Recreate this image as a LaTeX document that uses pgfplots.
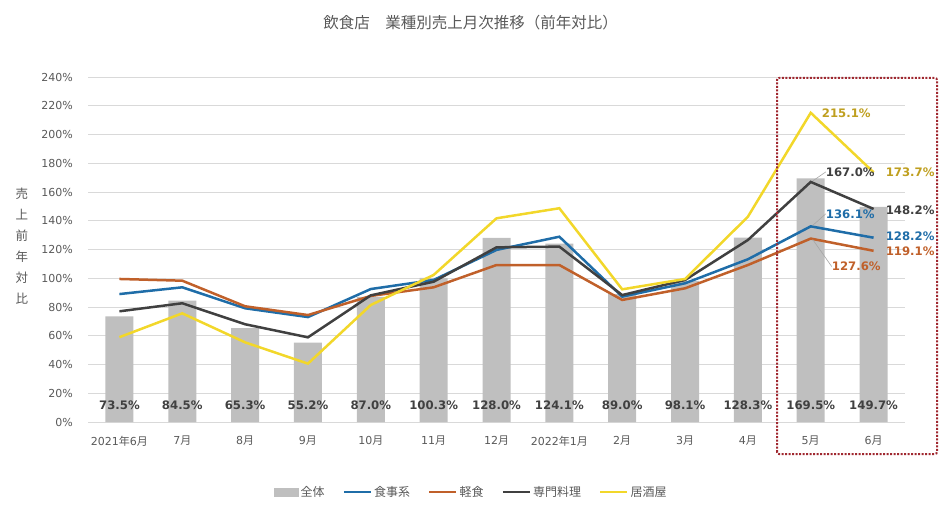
\documentclass[border=0pt]{standalone}
\usepackage{fontspec}
\setmainfont{DejaVu Sans}
\newfontfamily\cjk{Noto Sans CJK JP}
\usepackage{pgfplots}
\usepackage{pgfplotstable}
\pgfplotsset{compat=1.18}
\pgfkeys{/pgf/number format/assume math mode=true}

\definecolor{cbar}{HTML}{BFBFBF}
\definecolor{cmeal}{HTML}{1F6DA8}
\definecolor{clight}{HTML}{C0602A}
\definecolor{cspecial}{HTML}{404040}
\definecolor{cizakaya}{HTML}{F2D72A}
\definecolor{cizalbl}{HTML}{BF9F1F}
\definecolor{clabel}{HTML}{404040}
\definecolor{ctick}{HTML}{595959}
\definecolor{cgrid}{HTML}{D9D9D9}
\definecolor{cred}{HTML}{A02830}
\definecolor{clead}{HTML}{A6A6A6}

\pgfplotstableread{
x all meal light special izakaya
0 73.5 89.0 99.5 77.0 59.0
1 84.5 93.7 98.3 82.6 75.6
2 65.3 79.1 80.5 68.0 55.4
3 55.2 73.0 74.4 58.9 40.6
4 87.0 92.5 87.7 88.1 81.4
5 100.3 98.8 93.7 97.6 102.3
6 128.0 119.7 109.2 121.5 141.7
7 124.1 128.9 109.2 122.0 148.7
8 89.0 87.2 84.9 88.3 92.3
9 98.1 96.5 93.0 98.8 99.5
10 128.3 113.2 109.2 126.6 142.8
11 169.5 136.1 127.6 167.0 215.1
12 149.7 128.2 119.1 148.2 173.7
}\data

\newcommand{\pct}{\pgfmathprintnumber[fixed,fixed zerofill,precision=1]{\pgfplotspointmeta}\%}
\pgfplotsset{
  linelabel/.style n args={4}{draw=none, forget plot, mark=none,
    restrict x to domain=#1:#1,
    nodes near coords=\pct,
    every node near coord/.append style={font=\bfseries\fontsize{11.7}{14}\selectfont,
      text=#2, anchor=west, xshift=#3, yshift=#4, inner sep=0pt}},
}

\begin{document}
\begin{tikzpicture}
\useasboundingbox (0,0) rectangle (941pt,514pt);
\node[text=ctick, font=\cjk\fontsize{15.5}{18}\selectfont] at (470.5pt,491pt) {飲食店　業種別売上月次推移（前年対比）};
\begin{axis}[
  at={(88pt,92pt)}, anchor=south west,
  scale only axis, width=817pt, height=345pt,
  xmin=-0.5, xmax=12.5, ymin=0, ymax=240,
  clip=false,
  ytick distance=20,
  yticklabel={\pgfmathprintnumber{\tick}\%},
  xtick={0,...,12},
  xticklabels={2021{\cjk 年}6{\cjk 月},7{\cjk 月},8{\cjk 月},9{\cjk 月},10{\cjk 月},11{\cjk 月},12{\cjk 月},2022{\cjk 年}1{\cjk 月},2{\cjk 月},3{\cjk 月},4{\cjk 月},5{\cjk 月},6{\cjk 月}},
  ticklabel style={font=\fontsize{11}{13}\selectfont, text=ctick},
  yticklabel style={anchor=east, inner sep=0pt, xshift=-15pt},
  xticklabel style={anchor=center, inner sep=0pt, yshift=-19pt},
  axis line style={draw=none},
  major tick style={draw=none},
  ymajorgrids, grid style={cgrid, line width=0.8pt},
  ylabel={売\\上\\前\\年\\対\\比},
  ylabel style={rotate=-90, at={(rel axis cs:-0.0808,0.51)}, anchor=center, align=center,
    font=\cjk\fontsize{12.5}{21}\selectfont, text=ctick},
  legend style={at={(0.4688,-0.2029)}, anchor=center, draw=none, fill=none,
    legend columns=5, font=\cjk\fontsize{12}{14}\selectfont, text=ctick,
    /tikz/every even column/.append style={column sep=16pt}},
  legend image code/.code={\draw[#1, line width=2.5pt] (0pt,0pt) -- (27pt,0pt);},
]
\addplot[ybar, bar width=28pt, fill=cbar, draw=none,
  legend image code/.code={\fill[cbar] (0pt,-4.5pt) rectangle (25pt,4.5pt);},
  visualization depends on={\thisrow{all} \as \rawv},
  nodes near coords=\pct,
  every node near coord/.append style={font=\bfseries\fontsize{11.7}{14}\selectfont,
    text=clabel, anchor=center, yshift={-(\rawv-11.8)*1.4375pt}},
] table[x=x, y=all] {\data};
\addlegendentry{全体}
\addplot[cmeal, line width=2.5pt, mark=none] table[x=x, y=meal] {\data};
\addlegendentry{食事系}
\addplot[clight, line width=2.5pt, mark=none] table[x=x, y=light] {\data};
\addlegendentry{軽食}
\addplot[cspecial, line width=2.5pt, mark=none] table[x=x, y=special] {\data};
\addlegendentry{専門料理}
\addplot[cizakaya, line width=2.5pt, mark=none] table[x=x, y=izakaya] {\data};
\addlegendentry{居酒屋}

% labels at 5月 and 6月
\addplot[linelabel={11}{cizalbl}{11pt}{0pt}] table[x=x, y=izakaya] {\data};
\addplot[linelabel={11}{cspecial}{15pt}{10pt},
  every node near coord/.append style={append after command={(\tikzlastnode.west) edge[draw=clead, line width=0.6pt] ++(-13pt,-9pt)}}] table[x=x, y=special] {\data};
\addplot[linelabel={11}{cmeal}{15pt}{12.5pt},
  every node near coord/.append style={append after command={(\tikzlastnode.west) edge[draw=clead, line width=0.6pt] ++(-13pt,-11.5pt)}}] table[x=x, y=meal] {\data};
\addplot[linelabel={11}{clight}{21pt}{-28pt},
  every node near coord/.append style={append after command={(\tikzlastnode.west) edge[draw=clead, line width=0.6pt] ++(-19pt,27pt)}}] table[x=x, y=light] {\data};
\addplot[linelabel={12}{cizalbl}{12pt}{0pt}] table[x=x, y=izakaya] {\data};
\addplot[linelabel={12}{cspecial}{12pt}{-1pt}] table[x=x, y=special] {\data};
\addplot[linelabel={12}{cmeal}{12pt}{1pt}] table[x=x, y=meal] {\data};
\addplot[linelabel={12}{clight}{12pt}{0pt}] table[x=x, y=light] {\data};
\end{axis}
\draw[cred, line width=2pt, dash pattern=on 2pt off 1.5pt, rounded corners=2pt] (777pt,60pt) rectangle (937pt,436pt);
\end{tikzpicture}
\end{document}
